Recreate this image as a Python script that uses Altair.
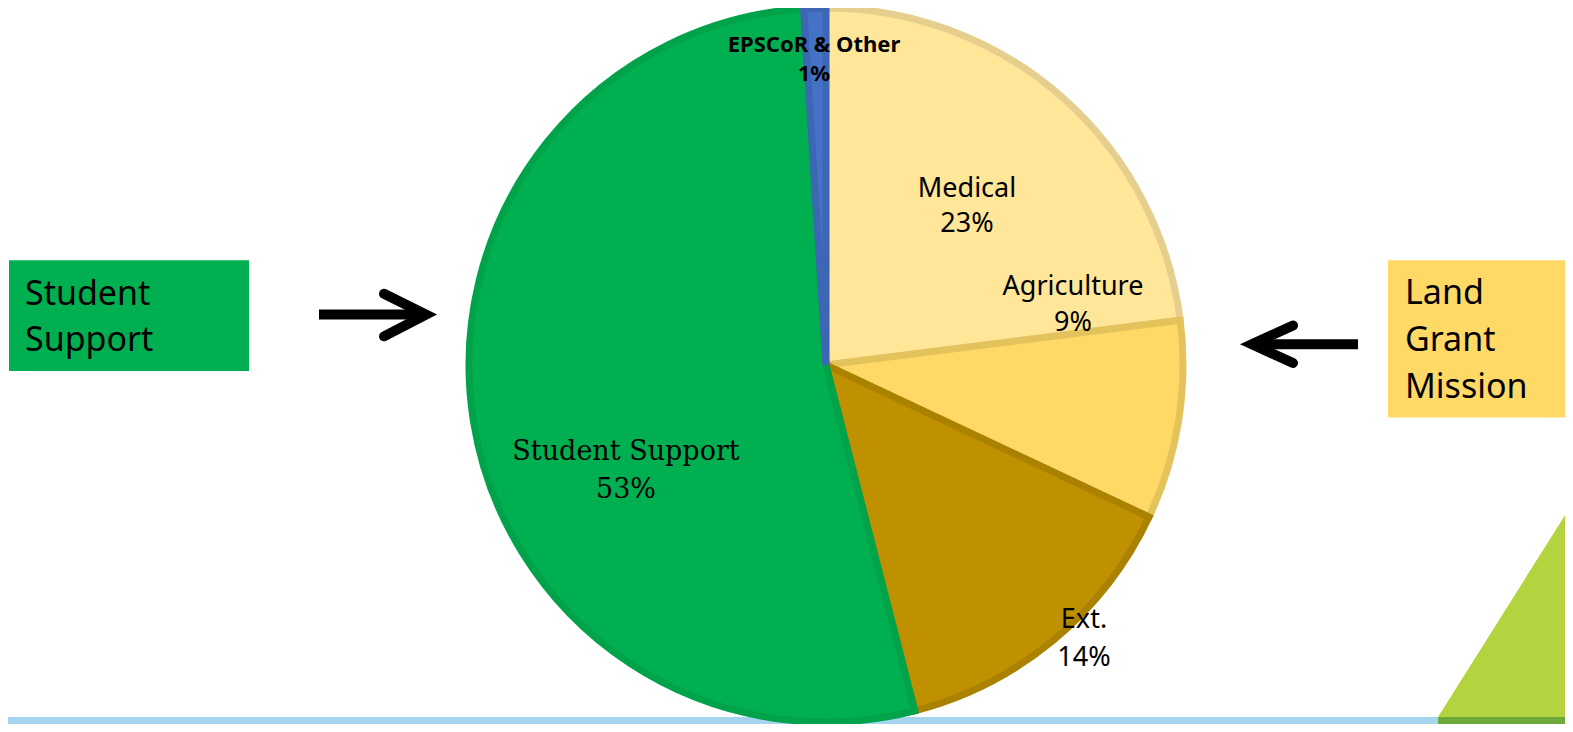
import altair as alt
import pandas as pd

# ---------------- data ----------------
categories = ["Medical", "Agriculture", "Ext.", "Student Support", "EPSCoR & Other"]
shares = [23, 9, 14, 53, 1]
fill_colors = ["#FFE699", "#FFD966", "#BF9000", "#00B050", "#4472C4"]
edge_colors = ["#E6CF8E", "#E5C35C", "#AB8100", "#00A34A", "#3D67B5"]

left_box_text = ["Student", "Support"]
right_box_text = ["Land", "Grant", "Mission"]

# ---------------- layout (reference pixel coordinates) ----------------
OX, OY = 8, 8          # page margin
W, H = 1557, 716       # chart size
YMAX = 732             # bottom of the reference picture
CX, CY, R = 826, 369, 357

# label centre x and first-line baseline y, line gap
label_layout = {
    "Medical": (967, 199, 36),
    "Agriculture": (1073, 298, 37),
    "Ext.": (1084, 635, 38),
    "Student Support": (626, 465, 38),
    "EPSCoR & Other": (814, 52, 30),
}

xs = alt.Scale(domain=[OX, OX + W], nice=False, zero=False)
ys = alt.Scale(domain=[OY, YMAX], reverse=True, nice=False, zero=False)
ypix = lambda v: (v - OY) * H / (YMAX - OY)


def X(f="x"):
    return alt.X(f"{f}:Q", scale=xs, axis=None)


def Y(f="y"):
    return alt.Y(f"{f}:Q", scale=ys, axis=None)


# ---------------- background decorations ----------------
bands = pd.DataFrame({
    "x": [0, 1438], "x2": [1573, 1573], "y": [725, 725], "y2": [732, 732],
    "c": ["#A6D5EF", "#6DAA3B"],
})
band_layer = alt.Chart(bands).mark_rect().encode(
    x=X(), x2="x2:Q", y=Y(), y2="y2:Q", color=alt.Color("c:N", scale=None)
)

tri = pd.DataFrame({"x": [1438, 1573], "y": [725, 508], "y2": [725, 725]})
tri_layer = alt.Chart(tri).mark_area(color="#B3D33F", interpolate="linear").encode(
    x=X(), y=Y(), y2="y2:Q"
)

boxes = pd.DataFrame({
    "x": [9, 1388], "x2": [249, 1573], "y": [263, 263], "y2": [375, 422],
    "c": ["#00B050", "#FFD966"],
})
box_layer = alt.Chart(boxes).mark_rect().encode(
    x=X(), x2="x2:Q", y=Y(), y2="y2:Q", color=alt.Color("c:N", scale=None)
)

box_txt = pd.DataFrame({
    "t": left_box_text + right_box_text,
    "x": [25] * len(left_box_text) + [1405] * len(right_box_text),
    "y": [308 + 47 * i for i in range(len(left_box_text))]
    + [307 + 47.5 * i for i in range(len(right_box_text))],
})
box_txt_layer = alt.Chart(box_txt).mark_text(
    font="Noto Sans", fontSize=34, align="left", baseline="alphabetic", color="#000000"
).encode(x=X(), y=Y(), text="t:N")

# arrows
shafts = pd.DataFrame({"x": [319, 1258], "x2": [418, 1358], "y": [318, 348]})
shaft_layer = alt.Chart(shafts).mark_rule(strokeWidth=10, color="#000000").encode(
    x=X(), x2="x2:Q", y=Y()
)
heads = pd.DataFrame({
    "a": ["L", "L", "L", "R", "R", "R"],
    "o": [0, 1, 2, 0, 1, 2],
    "x": [384, 426, 384, 1293, 1252, 1293],
    "y": [297, 318, 340, 329, 348, 367],
})
head_layer = alt.Chart(heads).mark_line(
    strokeWidth=10, color="#000000", strokeCap="round", strokeJoin="miter", strokeMiterLimit=10
).encode(x=X(), y=Y(), detail="a:N", order="o:Q")

# ---------------- pie ----------------
pie_df = pd.DataFrame({"category": categories, "share": shares, "o": list(range(len(categories)))})
pie_layer = alt.Chart(pie_df).mark_arc(radius=R, strokeWidth=7, strokeJoin="miter").encode(
    theta=alt.Theta("share:Q", stack=True),
    order=alt.Order("o:Q"),
    color=alt.Color("category:N", scale=alt.Scale(domain=categories, range=fill_colors), legend=None),
    stroke=alt.Stroke("category:N", scale=alt.Scale(domain=categories, range=edge_colors), legend=None),
    x=alt.value(CX - OX),
    y=alt.value(ypix(CY)),
)

# ---------------- pie labels ----------------
rows = []
for cat, val in zip(categories, shares):
    lx, ly, gap = label_layout[cat]
    rows.append({"t": cat, "x": lx, "y": ly, "g": cat})
    rows.append({"t": f"{val}%", "x": lx, "y": ly + gap, "g": cat})
lab = pd.DataFrame(rows)

sans_cats = ["Medical", "Agriculture", "Ext."]
lab_sans = alt.Chart(lab[lab.g.isin(sans_cats)]).mark_text(
    font="Noto Sans", fontSize=27, align="center", baseline="alphabetic", color="#000000"
).encode(x=X(), y=Y(), text="t:N")
lab_serif = alt.Chart(lab[lab.g == "Student Support"]).mark_text(
    font="DejaVu Serif", fontSize=27, align="center", baseline="alphabetic", color="#000000"
).encode(x=X(), y=Y(), text="t:N")
lab_bold = alt.Chart(lab[lab.g == "EPSCoR & Other"]).mark_text(
    font="Noto Sans", fontSize=22, fontWeight="bold", align="center", baseline="alphabetic", color="#000000"
).encode(x=X(), y=Y(), text="t:N")

chart = alt.layer(
    band_layer, tri_layer, box_layer, box_txt_layer, shaft_layer, head_layer,
    pie_layer, lab_sans, lab_serif, lab_bold,
).properties(
    width=W, height=H, padding=0, autosize=alt.AutoSizeParams(type="none"),
    background="#FFFFFF",
).configure_view(strokeWidth=0)

chart.save("out.html", embed_options={"renderer": "svg", "actions": False})
